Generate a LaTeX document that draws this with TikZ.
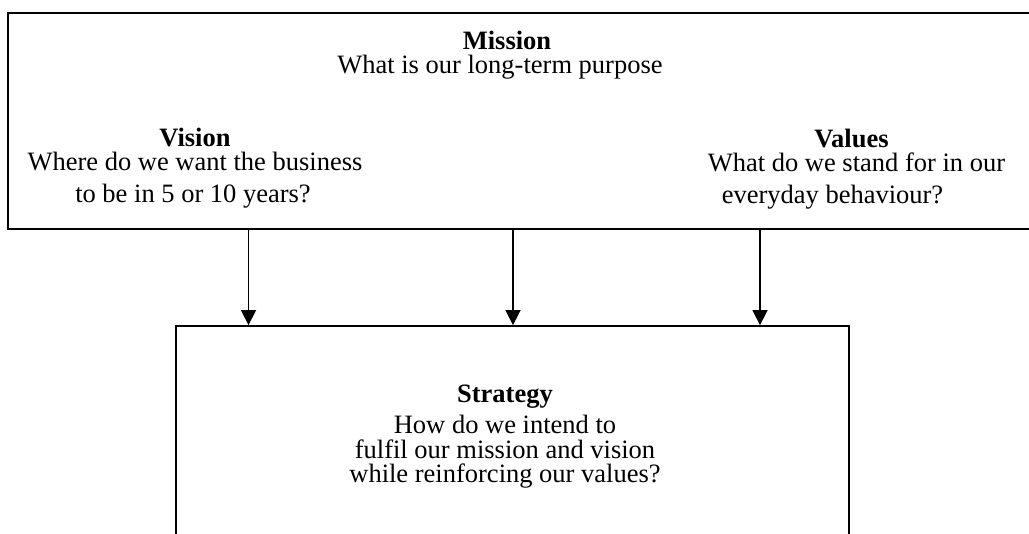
\documentclass[tikz,border=0pt]{standalone}
\usepackage{fontspec}
\setmainfont{Liberation Serif}
\usetikzlibrary{arrows.meta}
\tikzset{
  box/.style={draw, line width=1.8pt, rectangle, inner sep=0pt},
  blk/.style={font=\fontsize{26.5}{24}\selectfont, align=center, anchor=base, inner sep=0pt},
  arr/.style={line width=1.6pt, -{Triangle[length=15pt,width=15pt]}}
}
\begin{document}
\begin{tikzpicture}[x=1pt,y=-1pt]
\useasboundingbox (0,0) rectangle (1029,534);
\clip (0,0) rectangle (1029,534);
% boxes (partly off the page)
\node[box, minimum width=1042pt, minimum height=216pt] (top) at (529,121) {};
\node[box, minimum width=673pt, minimum height=234pt] (bot) at (512.5,443) {};
% arrow columns
\coordinate (c1) at (248.5,0);
\coordinate (c2) at (513,0);
\coordinate (c3) at (760,0);
\draw[arr] (top.south -| c1) -- (bot.north -| c1);
\draw[arr] (top.south -| c2) -- (bot.north -| c2);
\draw[arr] (top.south -| c3) -- (bot.north -| c3);
% mission
\node[blk] (mission) at (507,74) {\textbf{Mission}\\What is our long-term purpose\hspace*{14pt}};
% vision
\node[blk] (vision) at (195,203) {\textbf{Vision}\\Where do we want the business\hspace*{5pt}\\[8pt]to be in 5 or 10 years?\hspace*{4pt}};
% values
\node[blk] (values) at (851.5,204) {\textbf{Values}\\\hspace*{10pt}What do we stand for in our\\[8pt]everyday behaviour?\hspace*{38pt}};
% strategy
\node[blk] (strategy) at (505,483) {\textbf{Strategy}\\[6pt]How do we intend to\\[1pt]fulfil our mission and vision\\while reinforcing our values?};
\end{tikzpicture}
\end{document}
